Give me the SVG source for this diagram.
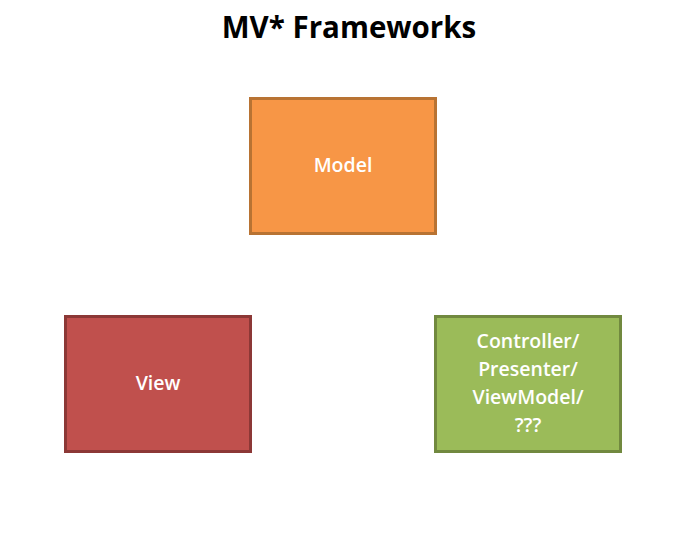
<svg xmlns="http://www.w3.org/2000/svg" width="698" height="548" viewBox="0 0 698 548">
<style>
.title{font-family:"Open Sans","Noto Sans","DejaVu Sans",sans-serif;font-weight:bold;font-size:29.5px;fill:#000;text-anchor:middle}
.box{stroke-width:3}
.lbl{font-family:"Open Sans","Noto Sans","DejaVu Sans",sans-serif;font-weight:600;font-size:19.5px;fill:#fff;text-anchor:middle}
</style>
<rect width="698" height="548" fill="#fff"/>
<text class="title" x="349" y="38">MV* Frameworks</text>
<g id="model">
<rect class="box" x="250.5" y="98.5" width="185" height="135" fill="#F79646" stroke="#B87333"/>
<text class="lbl" x="343" y="172">Model</text>
</g>
<g id="view">
<rect class="box" x="65.5" y="316.5" width="185" height="135" fill="#C0504D" stroke="#8C3836"/>
<text class="lbl" x="158" y="390">View</text>
</g>
<g id="controller">
<rect class="box" x="435.5" y="316.5" width="185" height="135" fill="#9BBB59" stroke="#71893F"/>
<text class="lbl" x="528" y="348">Controller/</text>
<text class="lbl" x="528" y="376">Presenter/</text>
<text class="lbl" x="528" y="404">ViewModel/</text>
<text class="lbl" x="528" y="432">???</text>
</g>
<g id="connectors"></g>
</svg>
